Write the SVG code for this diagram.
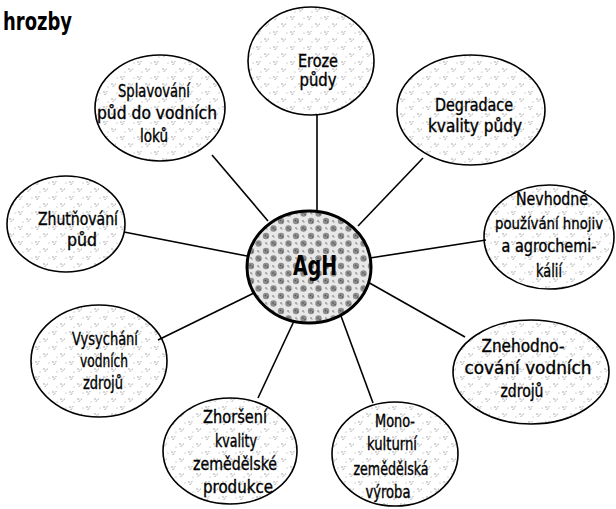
<svg xmlns="http://www.w3.org/2000/svg" width="616" height="509" viewBox="0 0 616 509">
<defs>
<pattern id="speck" width="17" height="15" patternUnits="userSpaceOnUse">
<g fill="#8a8a8a">
<circle cx="2" cy="2" r="0.7"/><circle cx="4" cy="3" r="0.6"/><circle cx="3" cy="4.5" r="0.6"/><circle cx="5" cy="1.5" r="0.5"/>
<circle cx="10" cy="9" r="0.7"/><circle cx="12" cy="10" r="0.6"/><circle cx="11" cy="11.5" r="0.5"/><circle cx="13.5" cy="9" r="0.5"/>
<circle cx="6" cy="12" r="0.5"/><circle cx="15" cy="3" r="0.5"/>
</g>
</pattern>
<pattern id="dense" width="15" height="15" patternUnits="userSpaceOnUse">
<rect width="15" height="15" fill="#e8e8e8"/>
<g fill="#8c8c8c">
<circle cx="3.5" cy="3.5" r="3.2"/><circle cx="11" cy="11" r="3.2"/>
</g>
<g fill="#505050">
<circle cx="3" cy="3" r="0.8"/><circle cx="5" cy="4.5" r="0.7"/><circle cx="10.5" cy="10.5" r="0.8"/><circle cx="12.5" cy="12" r="0.7"/>
<circle cx="11" cy="3" r="0.7"/><circle cx="3" cy="11" r="0.7"/><circle cx="12" cy="4" r="0.5"/><circle cx="4" cy="12" r="0.5"/>
</g>
</pattern>
<style>
.n ellipse{fill:url(#speck);stroke:#000;stroke-width:1.6}
.c ellipse{fill:url(#dense);stroke:#000;stroke-width:3}
text{font-family:"DejaVu Sans Condensed","Liberation Sans",sans-serif;font-size:17px;fill:#000;stroke:#000;stroke-width:0.35;text-anchor:middle}
.edges line{stroke:#000;stroke-width:1.6}
</style>
</defs>
<rect width="616" height="509" fill="#fff"/>
<text x="3" y="30" style="text-anchor:start;font-size:24px;font-weight:bold;stroke-width:0" textLength="69" lengthAdjust="spacingAndGlyphs">hrozby</text>
<g class="edges">
<line x1="317" y1="115" x2="317" y2="211"/>
<line x1="212" y1="155" x2="268" y2="221"/>
<line x1="423" y1="158" x2="358" y2="226"/>
<line x1="486" y1="240" x2="370" y2="258"/>
<line x1="465" y1="337" x2="366" y2="281"/>
<line x1="373" y1="403" x2="341" y2="316"/>
<line x1="258" y1="398" x2="294" y2="321"/>
<line x1="158" y1="340" x2="254" y2="293"/>
<line x1="124" y1="232" x2="247" y2="256"/>
</g>
<g id="agh" class="c">
<ellipse cx="309" cy="267" rx="62" ry="56"/>
<text x="315" y="275" style="font-size:26px;font-weight:bold;stroke-width:0" textLength="44" lengthAdjust="spacingAndGlyphs">AgH</text>
</g>
<g id="eroze" class="n">
<ellipse cx="311" cy="61" rx="63" ry="54"/>
<text x="318" y="67" textLength="40" lengthAdjust="spacingAndGlyphs">Eroze</text>
<text x="318" y="86" textLength="37" lengthAdjust="spacingAndGlyphs">půdy</text>
</g>
<g id="splavovani" class="n">
<ellipse cx="160" cy="108" rx="65" ry="53"/>
<text x="154" y="97" textLength="72" lengthAdjust="spacingAndGlyphs">Splavování</text>
<text x="157" y="119" textLength="120" lengthAdjust="spacingAndGlyphs">půd do vodních</text>
<text x="154" y="142" textLength="28" lengthAdjust="spacingAndGlyphs">loků</text>
</g>
<g id="degradace" class="n">
<ellipse cx="471" cy="110" rx="74" ry="55"/>
<text x="474" y="111" textLength="78" lengthAdjust="spacingAndGlyphs">Degradace</text>
<text x="475" y="132" textLength="94" lengthAdjust="spacingAndGlyphs">kvality půdy</text>
</g>
<g id="nevhodne" class="n">
<ellipse cx="549" cy="237" rx="65" ry="52"/>
<text x="552" y="205" textLength="72" lengthAdjust="spacingAndGlyphs">Nevhodné</text>
<text x="549" y="229" style="font-size:16px" textLength="108" lengthAdjust="spacingAndGlyphs">používání hnojiv</text>
<text x="549" y="252" textLength="95" lengthAdjust="spacingAndGlyphs">a agrochemi-</text>
<text x="549" y="277" textLength="26" lengthAdjust="spacingAndGlyphs">kálií</text>
</g>
<g id="zhutnovani" class="n">
<ellipse cx="66" cy="224" rx="59" ry="48"/>
<text x="78" y="225" textLength="80" lengthAdjust="spacingAndGlyphs">Zhutňování</text>
<text x="82" y="246" textLength="30" lengthAdjust="spacingAndGlyphs">půd</text>
</g>
<g id="vysychani" class="n">
<ellipse cx="99" cy="361" rx="68" ry="56"/>
<text x="105" y="345" textLength="66" lengthAdjust="spacingAndGlyphs">Vysychání</text>
<text x="104" y="367" textLength="48" lengthAdjust="spacingAndGlyphs">vodních</text>
<text x="103" y="389" textLength="40" lengthAdjust="spacingAndGlyphs">zdrojů</text>
</g>
<g id="znehodnocovani" class="n">
<ellipse cx="531" cy="372" rx="78" ry="52"/>
<text x="523" y="352" textLength="83" lengthAdjust="spacingAndGlyphs">Znehodno-</text>
<text x="528" y="374" textLength="127" lengthAdjust="spacingAndGlyphs">cování vodních</text>
<text x="522" y="397" textLength="43" lengthAdjust="spacingAndGlyphs">zdrojů</text>
</g>
<g id="zhorseni" class="n">
<ellipse cx="230" cy="451" rx="67" ry="53"/>
<text x="235" y="423" textLength="64" lengthAdjust="spacingAndGlyphs">Zhoršení</text>
<text x="236" y="447" textLength="42" lengthAdjust="spacingAndGlyphs">kvality</text>
<text x="235" y="470" textLength="84" lengthAdjust="spacingAndGlyphs">zemědělské</text>
<text x="238" y="493" textLength="70" lengthAdjust="spacingAndGlyphs">produkce</text>
</g>
<g id="monokulturni" class="n">
<ellipse cx="395" cy="454" rx="63" ry="52"/>
<text x="395" y="427" textLength="40" lengthAdjust="spacingAndGlyphs">Mono-</text>
<text x="392" y="450" textLength="50" lengthAdjust="spacingAndGlyphs">kulturní</text>
<text x="391" y="475" textLength="75" lengthAdjust="spacingAndGlyphs">zemědělská</text>
<text x="388" y="498" textLength="45" lengthAdjust="spacingAndGlyphs">výroba</text>
</g>
</svg>
